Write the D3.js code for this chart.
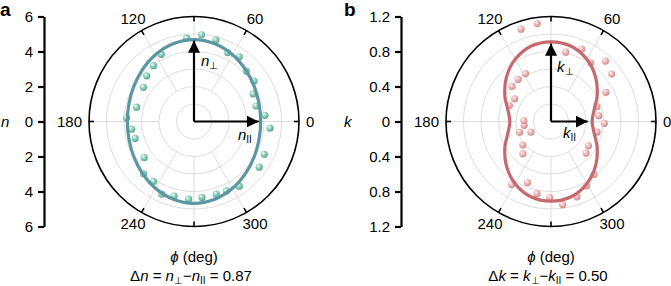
<!DOCTYPE html>
<html>
<head>
<meta charset="utf-8">
<script src="https://cdn.jsdelivr.net/npm/d3@7"></script>
<style>
  body { margin: 0; background: #fff; }
  text { font-family: "Liberation Sans", Arial, sans-serif; }
</style>
</head>
<body>
<script>
// polar grid
var labelAngles = [0, 60, 120, 180, 240, 300]
var gridAngles = [0, 60, 90, 120, 180, 240, 270, 300]

// fitted curves, read every 15 deg
var fitAngles = d3.range(0, 360, 15)
var nFit = [3.81, 3.85, 3.98, 4.18, 4.41, 4.60, 4.68, 4.60, 4.41, 4.18, 3.98, 3.85,
            3.81, 3.85, 3.98, 4.18, 4.41, 4.60, 4.68, 4.60, 4.41, 4.18, 3.98, 3.85]
var kFit = [0.47, 0.51, 0.61, 0.72, 0.82, 0.89, 0.91, 0.89, 0.82, 0.72, 0.61, 0.51,
            0.47, 0.51, 0.61, 0.72, 0.82, 0.89, 0.91, 0.89, 0.82, 0.72, 0.61, 0.51]

// measured points (angle in deg, value)
var nDotAngles = [95, 85, 75, 64, 55, 44, 34, 25, 14, 5, -5, -25, -35, -55, -65, -73, -84, -94,
                  -105, -114, -124, -134, -144, -164, -173, 177, 166, 146, 136, 126, 116]
var nDotValues = [4.78, 4.97, 4.83, 4.38, 4.51, 4.15, 4.14, 3.73, 3.65, 4.07, 4.36, 4.43, 4.55, 4.51, 4.38, 4.34, 4.36, 4.45,
                  4.41, 4.54, 4.14, 4.15, 3.52, 3.50, 3.59, 3.86, 3.38, 3.49, 3.76, 3.94, 4.27]

var kDotAngles = [108, 98, 78, 67, 56, 48, 38, 28, 18, 7, -2, -13, -33, -42, -51, -61, -71, -82,
                  -91, -101, -111, -122, -131, -140, -152, -161, -172, 178, 159, 148, 138, 128, 118]
var kDotValues = [1.11, 1.13, 0.81, 0.90, 0.81, 0.93, 0.88, 0.71, 0.55, 0.55, 0.61, 0.54, 0.51, 0.54, 0.78, 0.84, 0.91, 0.96,
                  0.87, 0.84, 0.75, 0.85, 0.49, 0.42, 0.26, 0.38, 0.31, 0.31, 0.51, 0.49, 0.60, 0.61, 0.62]

var nTicks = [-6, -4, -2, 0, 2, 4, 6]
var kTicks = [-1.2, -0.8, -0.4, 0, 0.4, 0.8, 1.2]

var width = 671,
    height = 286

var svg = d3.select('body').append('svg')
    .attr('width', width)
    .attr('height', height)

var defs = svg.append('defs')
function ballGradient(id, light, mid, dark) {
    var g = defs.append('radialGradient').attr('id', id)
        .attr('cx', '40%').attr('cy', '40%').attr('r', '60%')
        .attr('fx', '35%').attr('fy', '30%')
    g.append('stop').attr('offset', '0%').attr('stop-color', light)
    g.append('stop').attr('offset', '45%').attr('stop-color', mid)
    g.append('stop').attr('offset', '100%').attr('stop-color', dark)
}
ballGradient('ballA', '#f4fffb', '#98d6c0', '#5aa892')
ballGradient('ballB', '#fff6f6', '#eebfbf', '#cf8d8e')

defs.append('marker').attr('id', 'head')
    .attr('viewBox', '0 0 10 10')
    .attr('refX', 10).attr('refY', 5)
    .attr('markerWidth', 5.5).attr('markerHeight', 5.5)
    .attr('markerUnits', 'strokeWidth')
    .attr('orient', 'auto')
    .append('path').attr('d', 'M0,0L10,5L0,10z').attr('fill', '#000')

var R = 105

function panel(o) {
    var g = svg.append('g')
    var cx = o.cx, cy = o.cy

    // left linear axis
    var y = d3.scaleLinear().domain([-o.max, o.max]).range([cy + R, cy - R])
    var ax = g.append('g')
        .attr('transform', 'translate(' + o.axisX + ',0)')
        .call(d3.axisLeft(y).tickValues(o.ticks).tickSize(6).tickSizeOuter(0).tickPadding(5)
            .tickFormat(d => o.fmt(Math.abs(d))))
    ax.select('.domain').attr('stroke-width', 2.2)
    ax.selectAll('.tick line').attr('stroke-width', 2.2)
    ax.selectAll('text').attr('font-size', 15).attr('font-family', '"Liberation Sans", Arial, sans-serif')

    g.append('text').attr('x', o.nameX).attr('y', cy + 5)
        .attr('font-size', 15).attr('font-style', 'italic').text(o.name)
    g.append('text').attr('x', o.tagX).attr('y', 16)
        .attr('font-size', 19).attr('font-weight', 'bold').text(o.tag)

    var r = d3.scaleLinear().domain([0, o.max]).range([0, R])
    var pg = g.append('g').attr('transform', 'translate(' + cx + ',' + cy + ')')
    var rad = a => a * Math.PI / 180

    // rings
    pg.selectAll('circle.ring').data(d3.range(1, 6).map(i => i * o.max / 6)).enter()
        .append('circle').attr('r', d => r(d))
        .attr('fill', 'none').attr('stroke', '#cfcfcf').attr('stroke-width', 0.7)
    // spokes
    pg.selectAll('line.spoke').data(gridAngles).enter().append('line')
        .attr('x1', d => r(o.max / 3) * Math.cos(rad(d)))
        .attr('y1', d => -r(o.max / 3) * Math.sin(rad(d)))
        .attr('x2', d => R * Math.cos(rad(d)))
        .attr('y2', d => -R * Math.sin(rad(d)))
        .attr('stroke', '#cfcfcf').attr('stroke-width', 0.7)
    // outer circle + ticks
    pg.append('circle').attr('r', R).attr('fill', 'none').attr('stroke', '#000').attr('stroke-width', 1.6)
    pg.selectAll('line.tk').data(gridAngles).enter().append('line')
        .attr('x1', d => R * Math.cos(rad(d)))
        .attr('y1', d => -R * Math.sin(rad(d)))
        .attr('x2', d => (R - 5) * Math.cos(rad(d)))
        .attr('y2', d => -(R - 5) * Math.sin(rad(d)))
        .attr('stroke', '#000').attr('stroke-width', 1.6)
    pg.selectAll('text.al').data(labelAngles).enter().append('text')
        .attr('x', d => d === 0 ? R + 7 : d === 180 ? -R - 7 : 122 * Math.cos(rad(d)))
        .attr('y', d => -118 * Math.sin(rad(d)) + 5)
        .attr('text-anchor', d => d === 0 ? 'start' : d === 180 ? 'end' : 'middle')
        .attr('font-size', 15)
        .text(d => d)

    // dots
    var dots = o.dotAngles.map((a, i) => ({ a: a, v: o.dotValues[i] }))
    pg.selectAll('circle.dot').data(dots).enter().append('circle')
        .attr('cx', d => r(d.v) * Math.cos(rad(d.a)))
        .attr('cy', d => -r(d.v) * Math.sin(rad(d.a)))
        .attr('r', 3.6)
        .attr('fill', 'url(#' + o.ball + ')')

    // fit curve
    var fit = fitAngles.map((a, i) => ({ a: a, v: o.fit[i] }))
    var line = d3.lineRadial()
        .angle(d => rad(90 - d.a))
        .radius(d => r(d.v))
        .curve(d3.curveCardinalClosed)
    pg.append('path').datum(fit).attr('d', line)
        .attr('fill', 'none').attr('stroke', o.color).attr('stroke-width', 3.2)

    // arrows
    pg.append('line').attr('x1', 0).attr('y1', 0).attr('x2', 0).attr('y2', -r(o.perpTip))
        .attr('stroke', '#000').attr('stroke-width', 2.2).attr('marker-end', 'url(#head)')
    pg.append('line').attr('x1', 0).attr('y1', 0).attr('x2', r(o.parTip)).attr('y2', 0)
        .attr('stroke', '#000').attr('stroke-width', 2.2).attr('marker-end', 'url(#head)')

    var t1 = pg.append('text').attr('x', o.perpLab[0]).attr('y', o.perpLab[1]).attr('font-size', 15)
    t1.append('tspan').attr('font-style', 'italic').text(o.sym)
    t1.append('tspan').attr('font-size', 10).attr('dy', 3).text('\u22a5')
    var t2 = pg.append('text').attr('x', o.parLab[0]).attr('y', o.parLab[1]).attr('font-size', 15)
    t2.append('tspan').attr('font-style', 'italic').text(o.sym)
    t2.append('tspan').attr('font-size', 10).attr('dy', 3).text('II')

    // bottom labels
    var b1 = g.append('text').attr('x', cx).attr('y', 262).attr('text-anchor', 'middle').attr('font-size', 15)
    b1.append('tspan').attr('font-style', 'italic').text('\u03d5')
    b1.append('tspan').text(' (deg)')
    var b2 = g.append('text').attr('x', cx - 3).attr('y', 281).attr('text-anchor', 'middle').attr('font-size', 15)
    b2.append('tspan').text('\u0394')
    b2.append('tspan').attr('font-style', 'italic').text(o.sym)
    b2.append('tspan').text(' = ')
    b2.append('tspan').attr('font-style', 'italic').text(o.sym)
    b2.append('tspan').attr('font-size', 10).attr('dy', 3).text('\u22a5')
    b2.append('tspan').attr('dy', -3).text('\u2212')
    b2.append('tspan').attr('font-style', 'italic').text(o.sym)
    b2.append('tspan').attr('font-size', 10).attr('dy', 3).text('II')
    b2.append('tspan').attr('dy', -3).text(' = ' + o.delta)
}

panel({
    cx: 194, cy: 121.5, axisX: 44, max: 6, ticks: nTicks, fmt: d3.format('d'),
    name: 'n', nameX: 1, tag: 'a', tagX: 0,
    fit: nFit, dotAngles: nDotAngles, dotValues: nDotValues,
    color: '#5b97a2', ball: 'ballA', sym: 'n',
    perpTip: 4.62, parTip: 3.7, perpLab: [7, -56], parLab: [44, 18], delta: '0.87'
})

panel({
    cx: 551, cy: 121.5, axisX: 401, max: 1.2, ticks: kTicks, fmt: d => d === 0 ? '0' : d3.format('.1f')(d),
    name: 'k', nameX: 344, tag: 'b', tagX: 344,
    fit: kFit, dotAngles: kDotAngles, dotValues: kDotValues,
    color: '#c7686c', ball: 'ballB', sym: 'k',
    perpTip: 0.89, parTip: 0.42, perpLab: [6, -50], parLab: [12, 16], delta: '0.50'
})
</script>
</body>
</html>
